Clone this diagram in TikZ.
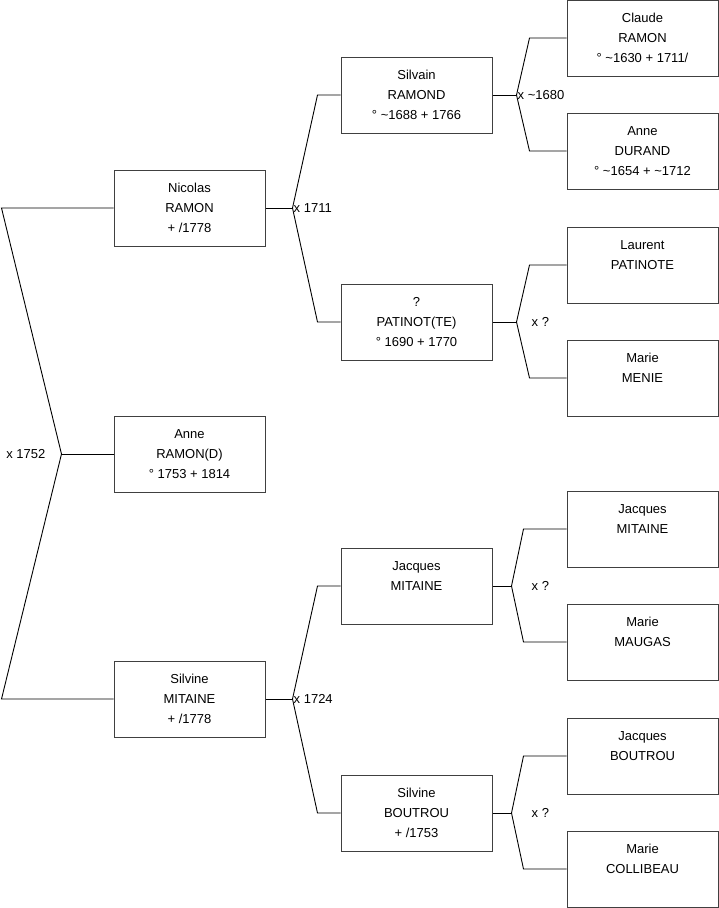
\documentclass[tikz,border=0pt]{standalone}
\usepackage{fontspec}
\setmainfont{Liberation Sans}
\usetikzlibrary{positioning}

\begin{document}
\begin{tikzpicture}[
    x=1pt, y=-1pt,
    person/.style={draw=black!75, line width=1pt, rectangle, minimum width=151pt, minimum height=76pt,
        align=center, inner sep=0pt, font=\fontsize{13pt}{20pt}\selectfont},
    lien/.style={draw, line width=0.9pt},
    mariage/.style={inner sep=1pt, font=\fontsize{13pt}{15pt}\selectfont}
]
\useasboundingbox (0,0) rectangle (719,908);

% generation 1
\node[person] (anneD) at (189.5,454) {Anne\\RAMON(D)\\° 1753 + 1814};
\node[person] (nicolas) [above=169pt of anneD] {Nicolas\\RAMON\\+ /1778};
\node[person] (silvine) [below=168pt of anneD] {Silvine\\MITAINE\\+ /1778};

% generation 2
\node[person] (silvain) [right=75pt of nicolas, yshift=113pt] {Silvain\\RAMOND\\° \textasciitilde1688 + 1766};
\node[person] (patinot) [right=75pt of nicolas, yshift=-114pt] {?\\PATINOT(TE)\\° 1690 + 1770};
\node[person] (jacquesM) [right=75pt of silvine, yshift=113pt] {Jacques\\MITAINE\\~};
\node[person] (silvineB) [right=75pt of silvine, yshift=-114pt] {Silvine\\BOUTROU\\+ /1753};

% generation 3
\node[person] (claude) [right=74pt of silvain, yshift=57pt] {Claude\\RAMON\\° \textasciitilde1630 + 1711/};
\node[person] (anneDur) [right=74pt of silvain, yshift=-56pt] {Anne\\DURAND\\° \textasciitilde1654 + \textasciitilde1712};
\node[person] (laurent) [right=74pt of patinot, yshift=57pt] {Laurent\\PATINOTE\\~};
\node[person] (marieMen) [right=74pt of patinot, yshift=-56pt] {Marie\\MENIE\\~};
\node[person] (jacquesMi) [right=74pt of jacquesM, yshift=57pt] {Jacques\\MITAINE\\~};
\node[person] (marieMau) [right=74pt of jacquesM, yshift=-56pt] {Marie\\MAUGAS\\~};
\node[person] (jacquesB) [right=74pt of silvineB, yshift=57pt] {Jacques\\BOUTROU\\~};
\node[person] (marieC) [right=74pt of silvineB, yshift=-56pt] {Marie\\COLLIBEAU\\~};

% forks
\coordinate (m0) at ([xshift=-52pt]anneD.west);
\coordinate (m1) at ([xshift=27pt]nicolas.east);
\coordinate (m2) at ([xshift=27pt]silvine.east);
\coordinate (m3) at ([xshift=24pt]silvain.east);
\coordinate (m4) at ([xshift=24pt]patinot.east);
\coordinate (m5) at ([xshift=19pt]jacquesM.east);
\coordinate (m6) at ([xshift=19pt]silvineB.east);

\draw[lien] (nicolas.west) -- ([xshift=-112pt]nicolas.west) -- (m0) -- ([xshift=-112pt]silvine.west) -- (silvine.west);
\draw[lien] (m0) -- (anneD.west);
\node[mariage, left=16pt of m0, inner sep=0pt] (x0) {x 1752};

\draw[lien] (nicolas.east) -- (m1);
\draw[lien] (silvain.west) -- ([xshift=-23pt]silvain.west) -- (m1) -- ([xshift=-23pt]patinot.west) -- (patinot.west);
\node[mariage, anchor=west] (x1) at (m1) {x 1711};

\draw[lien] (silvine.east) -- (m2);
\draw[lien] (jacquesM.west) -- ([xshift=-23pt]jacquesM.west) -- (m2) -- ([xshift=-23pt]silvineB.west) -- (silvineB.west);
\node[mariage, anchor=west] (x2) at (m2) {x 1724};

\draw[lien] (silvain.east) -- (m3);
\draw[lien] (claude.west) -- ([xshift=-37pt]claude.west) -- (m3) -- ([xshift=-37pt]anneDur.west) -- (anneDur.west);
\node[mariage, anchor=west] (x3) at (m3) {x \textasciitilde1680};

\draw[lien] (patinot.east) -- (m4);
\draw[lien] (laurent.west) -- ([xshift=-37pt]laurent.west) -- (m4) -- ([xshift=-37pt]marieMen.west) -- (marieMen.west);
\node[mariage, right=15pt of m4, inner sep=0pt] (x4) {x ?};

\draw[lien] (jacquesM.east) -- (m5);
\draw[lien] (jacquesMi.west) -- ([xshift=-43pt]jacquesMi.west) -- (m5) -- ([xshift=-43pt]marieMau.west) -- (marieMau.west);
\node[mariage, right=20pt of m5, inner sep=0pt] (x5) {x ?};

\draw[lien] (silvineB.east) -- (m6);
\draw[lien] (jacquesB.west) -- ([xshift=-43pt]jacquesB.west) -- (m6) -- ([xshift=-43pt]marieC.west) -- (marieC.west);
\node[mariage, right=20pt of m6, inner sep=0pt] (x6) {x ?};
\end{tikzpicture}
\end{document}
